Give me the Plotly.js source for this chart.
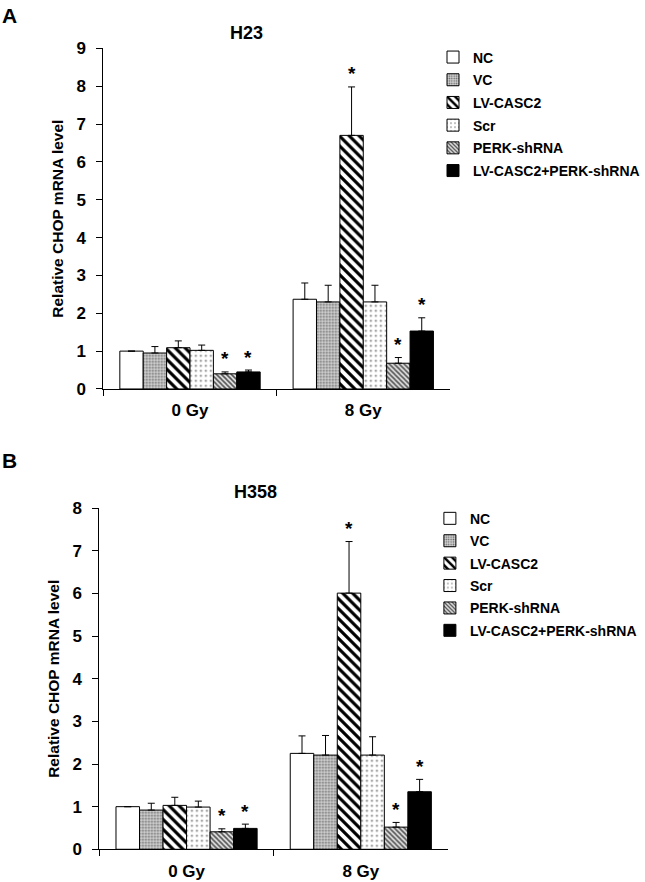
<!DOCTYPE html>
<html>
<head>
<meta charset="utf-8">
<script src="https://cdn.plot.ly/plotly-3.0.1.min.js"></script>
<style>html,body{margin:0;padding:0;background:#fff;}</style>
</head>
<body>
<div id="chart" style="width:645px;height:882px;"></div>
<script>
// ---- Data ----
const categories = ["0 Gy", "8 Gy"];
const seriesNames = ["NC", "VC", "LV-CASC2", "Scr", "PERK-shRNA", "LV-CASC2+PERK-shRNA"];

// Panel A: H23
const h23_NC = [1.00, 2.37];
const h23_VC = [0.95, 2.30];
const h23_LV = [1.09, 6.70];
const h23_Scr = [1.02, 2.30];
const h23_PERK = [0.40, 0.68];
const h23_LVPERK = [0.45, 1.53];
const h23_err_NC = [0.00, 0.43];
const h23_err_VC = [0.17, 0.44];
const h23_err_LV = [0.18, 1.28];
const h23_err_Scr = [0.14, 0.44];
const h23_err_PERK = [0.05, 0.15];
const h23_err_LVPERK = [0.05, 0.35];
const h23_sig_LV = [false, true];
const h23_sig_PERK = [true, true];
const h23_sig_LVPERK = [true, true];

// Panel B: H358
const h358_NC = [1.00, 2.25];
const h358_VC = [0.92, 2.21];
const h358_LV = [1.03, 6.01];
const h358_Scr = [0.99, 2.21];
const h358_PERK = [0.41, 0.52];
const h358_LVPERK = [0.49, 1.35];
const h358_err_NC = [0.00, 0.41];
const h358_err_VC = [0.16, 0.46];
const h358_err_LV = [0.19, 1.21];
const h358_err_Scr = [0.14, 0.43];
const h358_err_PERK = [0.07, 0.11];
const h358_err_LVPERK = [0.10, 0.29];
const h358_sig_LV = [false, true];
const h358_sig_PERK = [true, true];
const h358_sig_LVPERK = [true, true];

const yTitle = "Relative CHOP mRNA level";

// ---- Styles ----
const FONT = "Arial, 'Liberation Sans', sans-serif";
const styles = [
  {color: "#ffffff", pattern: {shape: ""}},
  {color: "#c8c8c8", pattern: {shape: ".", fgcolor: "#6a6a6a", bgcolor: "#d4d4d4", size: 3, solidity: 0.35}},
  {color: "#ffffff", pattern: {shape: "\\", fgcolor: "#000000", bgcolor: "#ffffff", size: 7, solidity: 0.45}},
  {color: "#ffffff", pattern: {shape: ".", fgcolor: "#707070", bgcolor: "#ffffff", size: 5, solidity: 0.12}},
  {color: "#bbbbbb", pattern: {shape: "\\", fgcolor: "#555555", bgcolor: "#e0e0e0", size: 3.5, solidity: 0.45}},
  {color: "#000000", pattern: {shape: ""}}
];

const BARGAP = 0.19;
const NS = seriesNames.length;

function buildPanel(vals, errs, sigs, xa, ya, legendName, showLeg) {
  const traces = [];
  const anns = [];
  const w = (1 - BARGAP) / NS;
  vals.forEach((v, i) => {
    traces.push({
      type: "bar",
      name: seriesNames[i],
      x: categories,
      y: v,
      xaxis: xa, yaxis: ya,
      legend: legendName,
      legendgroup: legendName + i,
      showlegend: showLeg,
      marker: {color: styles[i].color, pattern: styles[i].pattern, line: {color: "#000", width: 1}},
      error_y: {type: "data", symmetric: false, array: errs[i], arrayminus: v.map(() => 0),
                color: "#000", thickness: 1, width: 3.5, visible: true},
      hoverinfo: "skip"
    });
    if (sigs[i]) {
      sigs[i].forEach((s, c) => {
        if (!s) return;
        const off = -(1 - BARGAP) / 2 + w * (i + 0.5);
        anns.push({
          xref: xa, yref: ya, x: c + off, y: v[c] + errs[i][c],
          text: "*", showarrow: false, yanchor: "middle", yshift: 13,
          font: {family: FONT, size: 19, color: "#000", weight: "bold"}
        });
      });
    }
  });
  return {traces, anns};
}

const A = buildPanel(
  [h23_NC, h23_VC, h23_LV, h23_Scr, h23_PERK, h23_LVPERK],
  [h23_err_NC, h23_err_VC, h23_err_LV, h23_err_Scr, h23_err_PERK, h23_err_LVPERK],
  [null, null, h23_sig_LV, null, h23_sig_PERK, h23_sig_LVPERK],
  "x", "y", "legend", true);
const B = buildPanel(
  [h358_NC, h358_VC, h358_LV, h358_Scr, h358_PERK, h358_LVPERK],
  [h358_err_NC, h358_err_VC, h358_err_LV, h358_err_Scr, h358_err_PERK, h358_err_LVPERK],
  [null, null, h358_sig_LV, null, h358_sig_PERK, h358_sig_LVPERK],
  "x2", "y2", "legend2", true);

const tickFont = {family: FONT, size: 17, color: "#000", weight: "bold"};
function xAxis(domain, anchor) {
  return {domain, anchor, type: "category", showline: true, linecolor: "#000", linewidth: 1,
    ticks: "outside", tickson: "boundaries", ticklen: 6, tickcolor: "#000",
    ticklabelstandoff: 6,
    tickfont: tickFont, showgrid: false, zeroline: false, fixedrange: true};
}
function yAxis(domain, anchor, range) {
  return {domain, anchor, range, dtick: 1, showline: true, linecolor: "#000", linewidth: 1,
    ticks: "outside", ticklen: 6, tickcolor: "#000", tickfont: tickFont,
    ticklabelstandoff: 7,
    showgrid: false, zeroline: false, fixedrange: true,
    title: {text: yTitle, font: {family: FONT, size: 15.5, color: "#000", weight: "bold"}, standoff: 9}};
}

const legendFont = {family: FONT, size: 14, color: "#000", weight: "bold"};

const layout = {
  width: 645, height: 882,
  margin: {l: 0, r: 0, t: 0, b: 0},
  paper_bgcolor: "#fff", plot_bgcolor: "#fff",
  barmode: "group", bargap: BARGAP, bargroupgap: 0,
  xaxis: xAxis([0.1628, 0.7085], "y"),
  yaxis: yAxis([0.5590, 0.9452], "x", [0, 9]),
  xaxis2: xAxis([0.1566, 0.7054], "y2"),
  yaxis2: yAxis([0.0371, 0.4237], "x2", [0, 8]),
  legend: {x: 0.682, y: 0.953, xanchor: "left", yanchor: "top", font: legendFont,
           tracegroupgap: 1.5, itemwidth: 30, bgcolor: "rgba(0,0,0,0)"},
  legend2: {x: 0.677, y: 0.430, xanchor: "left", yanchor: "top", font: legendFont,
            tracegroupgap: 1.2, itemwidth: 30, bgcolor: "rgba(0,0,0,0)"},
  annotations: [
    ...A.anns, ...B.anns,
    {xref: "paper", yref: "paper", x: 250/645, y: 1 - 33/882, xanchor: "center", yanchor: "middle",
     text: "H23", showarrow: false,
     font: {family: FONT, size: 18, color: "#000", weight: "bold"}},
    {xref: "paper", yref: "paper", x: 260/645, y: 1 - 492/882, xanchor: "center", yanchor: "middle",
     text: "H358", showarrow: false,
     font: {family: FONT, size: 18, color: "#000", weight: "bold"}},
    {xref: "paper", yref: "paper", x: 0, y: 1 - 2/882, xanchor: "left", yanchor: "top",
     text: "A", showarrow: false,
     font: {family: FONT, size: 21, color: "#000", weight: "bold"}},
    {xref: "paper", yref: "paper", x: 0, y: 1 - 460/882, xanchor: "left", yanchor: "middle",
     text: "B", showarrow: false,
     font: {family: FONT, size: 21, color: "#000", weight: "bold"}}
  ]
};

Plotly.newPlot("chart", [...A.traces, ...B.traces], layout, {staticPlot: true, displayModeBar: false});
</script>
</body>
</html>
